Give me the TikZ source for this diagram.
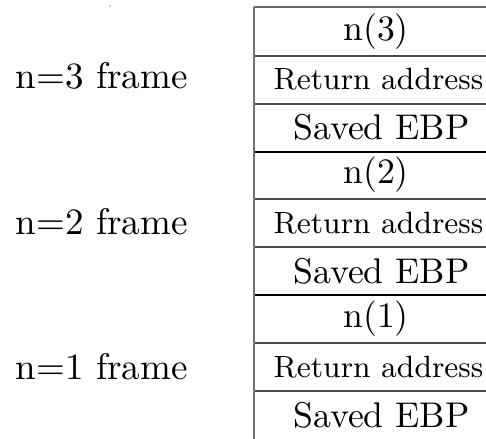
\documentclass[tikz,border=0pt]{standalone}
\begin{document}
\begin{tikzpicture}[x=0.75pt,y=-0.75pt,
  thinrule/.style={draw=black!70,line width=1.5pt},
  thickrule/.style={draw=black,line width=2.2pt},
  siderule/.style={draw=black!55,line width=1.3pt},
  toprule/.style={draw=black!60,line width=1.3pt},
  big/.style={font=\normalsize,inner sep=0pt,scale=2.68},
  small/.style={font=\small,inner sep=0pt,scale=2.56},
  framelabel/.style={font=\normalsize,inner sep=0pt,anchor=west,scale=2.78}]
\useasboundingbox (0,0) rectangle (486,439);
\begin{scope}
\clip (0,0) rectangle (486,439);
% left edge and top
\coordinate (tl) at (254,7);
\coordinate (tr) at (500,7);
\coordinate (bl) at (254,439);
\draw[toprule] (tl) -- (tr);
% cell separators
\foreach \y/\s in {56/thinrule,104/thinrule,152/thickrule,199/thinrule,247/thinrule,295/thickrule,343/thinrule,391/thinrule}{
  \coordinate (L\y) at (254,\y);
  \coordinate (R\y) at (500,\y);
  \draw[\s] (L\y) -- (R\y);
}
\draw[siderule] (tl) -- (bl);
\end{scope}
% cell texts
\node[big] (n3) at (376,32) {n(3)};
\node[small] (r3) at (378.5,79) {Return address};
\node[big] (s3) at (381.5,127) {Saved EBP};
\node[big] (n2) at (376,175) {n(2)};
\node[small] (r2) at (378.5,223) {Return address};
\node[big] (s2) at (381.5,271) {Saved EBP};
\node[big] (n1) at (376,319) {n(1)};
\node[small] (r1) at (378.5,367) {Return address};
\node[big] (s1) at (381.5,415) {Saved EBP};
% frame labels
\node[framelabel] (f3) at (15,76) {n=3 frame};
\node[framelabel] (f2) at (15,222) {n=2 frame};
\node[framelabel] (f1) at (15,367) {n=1 frame};
% stray dot
\fill[black!70] (110,6) circle (0.5pt);
\end{tikzpicture}
\end{document}
